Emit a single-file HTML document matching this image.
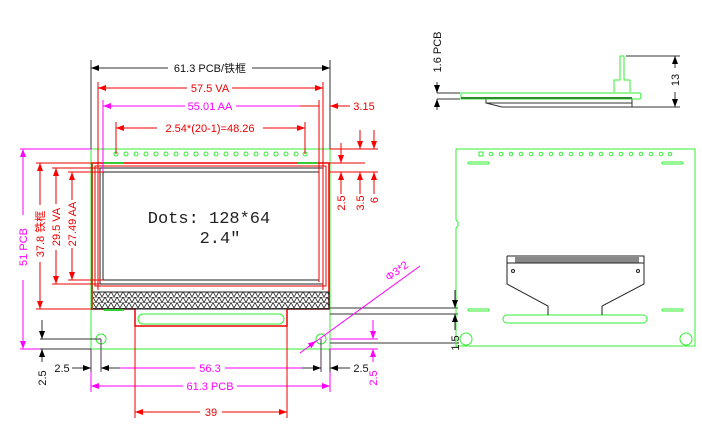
<!DOCTYPE html>
<html><head><meta charset="utf-8"><style>
html,body{margin:0;padding:0;background:#fff}
svg{display:block}
text{font-family:"Liberation Sans","Noto Sans CJK SC",sans-serif;font-size:11px}
</style></head><body>
<svg width="702" height="427" viewBox="0 0 702 427" xmlns="http://www.w3.org/2000/svg">
<defs>
<pattern id="hx" width="6" height="5.5" patternUnits="userSpaceOnUse">
<path d="M0,5.5 L3,0 L6,5.5 M0,0 L6,0" stroke="#222" stroke-width="0.8" fill="none"/>
</pattern>
<marker id="ak" markerWidth="8" markerHeight="6" refX="8" refY="3" orient="auto-start-reverse" markerUnits="userSpaceOnUse"><path d="M0,0 L8,3 L0,6z" fill="#000"/></marker>
<marker id="ar" markerWidth="8" markerHeight="6" refX="8" refY="3" orient="auto-start-reverse" markerUnits="userSpaceOnUse"><path d="M0,0 L8,3 L0,6z" fill="#f00"/></marker>
<marker id="am" markerWidth="8" markerHeight="6" refX="8" refY="3" orient="auto-start-reverse" markerUnits="userSpaceOnUse"><path d="M0,0 L8,3 L0,6z" fill="#f0f"/></marker>
</defs>
<g fill="none" stroke-width="1">
<path d="M91,149 H330 V349 H91 Z" stroke="#3e3"/>
<path d="M92,163 H329 V309 H287 V326 H135 V309 H92 Z" stroke="#e00" stroke-width="1.5"/>
<rect x="92" y="292" width="237" height="17" fill="url(#hx)" stroke="#222"/>
<rect x="95" y="166" width="231" height="120" stroke="#e00"/>
<rect x="100" y="168" width="223" height="116" stroke="#222"/>
<rect x="103" y="172" width="216" height="108" stroke="#222"/>
<line x1="92" y1="163" x2="92" y2="309" stroke="#a52" stroke-width="2"/>
<rect x="138" y="314" width="146" height="10" rx="5" stroke="#3e3"/>
<line x1="104" y1="163" x2="124" y2="163" stroke="#3c3" stroke-width="2"/>
<line x1="298" y1="163" x2="318" y2="163" stroke="#3c3" stroke-width="2"/>
<line x1="104" y1="310" x2="124" y2="310" stroke="#3c3" stroke-width="2"/>
<circle cx="101" cy="339" r="5" stroke="#3e3"/>
<circle cx="321" cy="339" r="5" stroke="#3e3"/>
<g stroke="#3e3">
<circle cx="116" cy="154" r="2"/><circle cx="126" cy="154" r="2"/><circle cx="136" cy="154" r="2"/><circle cx="146" cy="154" r="2"/><circle cx="156" cy="154" r="2"/><circle cx="166" cy="154" r="2"/><circle cx="176" cy="154" r="2"/><circle cx="186" cy="154" r="2"/><circle cx="196" cy="154" r="2"/><circle cx="206" cy="154" r="2"/><circle cx="216" cy="154" r="2"/><circle cx="226" cy="154" r="2"/><circle cx="236" cy="154" r="2"/><circle cx="246" cy="154" r="2"/><circle cx="256" cy="154" r="2"/><circle cx="266" cy="154" r="2"/><circle cx="276" cy="154" r="2"/><circle cx="286" cy="154" r="2"/><circle cx="296" cy="154" r="2"/><circle cx="305" cy="154" r="2"/>
</g>
<g stroke="#333"><line x1="91" y1="60" x2="91" y2="149"/><line x1="330" y1="60" x2="330" y2="149"/>
<line x1="91" y1="68" x2="168" y2="68" marker-start="url(#ak)"/><line x1="252" y1="68" x2="330" y2="68" marker-end="url(#ak)"/></g>
<g stroke="#e00"><line x1="98" y1="82" x2="98" y2="290"/><line x1="323" y1="82" x2="323" y2="290"/>
<line x1="98" y1="88" x2="187" y2="88" marker-start="url(#ar)"/><line x1="232" y1="88" x2="323" y2="88" marker-end="url(#ar)"/>
<line x1="319" y1="100" x2="319" y2="282"/>
<line x1="116" y1="122" x2="116" y2="154"/><line x1="305" y1="122" x2="305" y2="154"/>
<line x1="116" y1="128" x2="157" y2="128" marker-start="url(#ar)"/><line x1="263" y1="128" x2="305" y2="128" marker-end="url(#ar)"/>
<line x1="330" y1="106" x2="350" y2="106" marker-start="url(#ar)"/><line x1="300" y1="106" x2="319" y2="106" />
</g>
<g stroke="#f0f"><line x1="103" y1="100" x2="103" y2="172"/>
<line x1="103" y1="106" x2="185" y2="106" marker-start="url(#am)"/><line x1="236" y1="106" x2="300" y2="106"/></g>
<g stroke="#e00"><line x1="330" y1="149" x2="378" y2="149"/><line x1="330" y1="163" x2="365" y2="163"/><line x1="330" y1="172" x2="378" y2="172"/>
<line x1="341" y1="143" x2="341" y2="163" marker-end="url(#ar)"/><line x1="341" y1="194" x2="341" y2="172" marker-end="url(#ar)"/>
<line x1="360" y1="130" x2="360" y2="149" marker-end="url(#ar)"/><line x1="360" y1="194" x2="360" y2="172" marker-end="url(#ar)"/>
<line x1="374" y1="130" x2="374" y2="149" marker-end="url(#ar)"/><line x1="374" y1="194" x2="374" y2="172" marker-end="url(#ar)"/></g>
<g stroke="#f0f"><line x1="20" y1="149" x2="91" y2="149"/><line x1="20" y1="349" x2="91" y2="349"/>
<line x1="23" y1="149" x2="23" y2="215" marker-start="url(#am)"/><line x1="23" y1="280" x2="23" y2="349" marker-end="url(#am)"/></g>
<g stroke="#e00"><line x1="36" y1="163" x2="92" y2="163"/><line x1="36" y1="309" x2="92" y2="309"/>
<line x1="40" y1="163" x2="40" y2="205" marker-start="url(#ar)"/><line x1="40" y1="262" x2="40" y2="309" marker-end="url(#ar)"/>
<line x1="52" y1="168" x2="100" y2="168"/><line x1="52" y1="284" x2="100" y2="284"/>
<line x1="56" y1="168" x2="56" y2="204" marker-start="url(#ar)"/><line x1="56" y1="250" x2="56" y2="284" marker-end="url(#ar)"/>
<line x1="68" y1="172" x2="103" y2="172"/><line x1="68" y1="280" x2="103" y2="280"/>
<line x1="72" y1="172" x2="72" y2="200" marker-start="url(#ar)"/><line x1="72" y1="248" x2="72" y2="280" marker-end="url(#ar)"/></g>
<g stroke="#333"><line x1="40" y1="339" x2="101" y2="339"/><line x1="40" y1="349" x2="91" y2="349"/>
<line x1="42" y1="320" x2="42" y2="339" marker-end="url(#ak)"/><line x1="42" y1="362" x2="42" y2="349" marker-end="url(#ak)"/>
<line x1="91" y1="349" x2="91" y2="372" stroke="#535"/><line x1="101" y1="339" x2="101" y2="372" stroke="#535"/>
<line x1="72" y1="368" x2="91" y2="368" marker-end="url(#ak)"/><line x1="120" y1="368" x2="101" y2="368" marker-end="url(#ak)"/>
<line x1="321" y1="339" x2="321" y2="372" stroke="#535"/><line x1="330" y1="349" x2="330" y2="372"/>
<line x1="302" y1="368" x2="321" y2="368" marker-end="url(#ak)"/><line x1="350" y1="368" x2="330" y2="368" marker-end="url(#ak)"/>
<line x1="330" y1="308" x2="458" y2="308"/><line x1="330" y1="314" x2="458" y2="314"/><line x1="330" y1="343" x2="458" y2="343"/></g>
<g stroke="#f0f"><line x1="120" y1="368" x2="195" y2="368"/><line x1="225" y1="368" x2="302" y2="368"/>
<line x1="91" y1="372" x2="91" y2="392"/><line x1="330" y1="372" x2="330" y2="392"/>
<line x1="91" y1="386" x2="183" y2="386" marker-start="url(#am)"/><line x1="237" y1="386" x2="330" y2="386" marker-end="url(#am)"/>
<line x1="330" y1="339" x2="378" y2="339"/><line x1="330" y1="349" x2="378" y2="349"/>
<line x1="373" y1="320" x2="373" y2="339" marker-end="url(#am)"/><line x1="373" y1="362" x2="373" y2="349" marker-end="url(#am)"/>
<line x1="300" y1="353" x2="420" y2="266"/><line x1="308" y1="347" x2="316" y2="341" marker-end="url(#am)"/></g>
<g stroke="#e00"><line x1="135" y1="326" x2="135" y2="418"/><line x1="287" y1="326" x2="287" y2="418"/>
<line x1="135" y1="412" x2="200" y2="412" marker-start="url(#ar)"/><line x1="222" y1="412" x2="287" y2="412" marker-end="url(#ar)"/></g>
<g stroke="#333"><line x1="437" y1="93" x2="460" y2="93"/><line x1="437" y1="99" x2="460" y2="99"/>
<line x1="437" y1="82" x2="437" y2="93" marker-end="url(#ak)"/><line x1="437" y1="110" x2="437" y2="99" marker-end="url(#ak)"/>
<rect x="486" y="99" width="146" height="4"/><path d="M486,103 L502,107 H632 V103"/>
<line x1="626" y1="56" x2="680" y2="56"/><line x1="632" y1="107" x2="680" y2="107"/>
<line x1="675" y1="68" x2="675" y2="56" marker-end="url(#ak)"/><line x1="675" y1="92" x2="675" y2="107" marker-end="url(#ak)"/></g>
<path d="M461,93 H640 Q642,96 640,99 H461 Z" stroke="#3e3"/>
<line x1="461" y1="98" x2="632" y2="98" stroke="#383" stroke-width="2"/>
<path d="M614,92 V80 H620 V56 H624 V80 H630 V92" stroke="#3e3"/>
<path d="M456,149 H695 V346 H456 V228 L458,226 V222 L456,220 Z" stroke="#3e3"/>
<g stroke="#3e3"><rect x="479" y="152" width="4" height="4"/>
<circle cx="491" cy="154" r="1.8"/><circle cx="501" cy="154" r="1.8"/><circle cx="511" cy="154" r="1.8"/><circle cx="521" cy="154" r="1.8"/><circle cx="531" cy="154" r="1.8"/><circle cx="541" cy="154" r="1.8"/><circle cx="551" cy="154" r="1.8"/><circle cx="561" cy="154" r="1.8"/><circle cx="571" cy="154" r="1.8"/><circle cx="581" cy="154" r="1.8"/><circle cx="591" cy="154" r="1.8"/><circle cx="601" cy="154" r="1.8"/><circle cx="611" cy="154" r="1.8"/><circle cx="621" cy="154" r="1.8"/><circle cx="631" cy="154" r="1.8"/><circle cx="641" cy="154" r="1.8"/><circle cx="651" cy="154" r="1.8"/><circle cx="661" cy="154" r="1.8"/><circle cx="670" cy="154" r="1.8"/>
<rect x="468" y="162" width="21" height="2" rx="1"/><rect x="662" y="162" width="21" height="2" rx="1"/>
<rect x="468" y="309" width="21" height="2" rx="1"/><rect x="662" y="309" width="21" height="2" rx="1"/>
<rect x="503" y="315" width="144" height="8" rx="4"/>
<circle cx="466" cy="339" r="6"/><circle cx="686" cy="339" r="6"/></g>
<rect x="515" y="257" width="124" height="6" fill="#888" stroke="none"/>
<g stroke="#222"><path d="M507,256 H644 V284 L602,306 V315 M548,315 V306 L507,284 V256"/><line x1="507" y1="263" x2="644" y2="263"/>
<circle cx="513" cy="271" r="1.5"/><circle cx="638" cy="271" r="1.5"/>
<line x1="455" y1="290" x2="455" y2="308" marker-end="url(#ak)"/><line x1="455" y1="330" x2="455" y2="314" marker-end="url(#ak)"/></g>
</g>
<g text-anchor="middle">
<text x="210" y="72" fill="#111">61.3 PCB/铁框</text>
<text x="210" y="92" fill="#e00">57.5 VA</text>
<text x="210" y="110" fill="#f0f">55.01 AA</text>
<text x="364" y="110" fill="#e00">3.15</text>
<text x="210" y="132" fill="#e00">2.54*(20-1)=48.26</text>
<text x="209" y="223" fill="#222" style="font-family:'Liberation Mono','DejaVu Sans Mono',monospace;font-size:17px">Dots: 128*64</text>
<text x="220" y="243" fill="#222" style="font-family:'Liberation Mono','DejaVu Sans Mono',monospace;font-size:17px">2.4″</text>
<text x="62" y="372" fill="#111">2.5</text>
<text x="210" y="372" fill="#f0f">56.3</text>
<text x="361" y="372" fill="#111">2.5</text>
<text x="210" y="390" fill="#f0f">61.3 PCB</text>
<text x="211" y="416" fill="#e00">39</text>
</g>
<g text-anchor="middle">
<text transform="translate(27,247) rotate(-90)" fill="#f0f">51 PCB</text>
<text transform="translate(44,234) rotate(-90)" fill="#e00">37.8 铁框</text>
<text transform="translate(60,227) rotate(-90)" fill="#e00">29.5 VA</text>
<text transform="translate(76,224) rotate(-90)" fill="#e00">27.49 AA</text>
<text transform="translate(345,203) rotate(-90)" fill="#e00">2.5</text>
<text transform="translate(364,203) rotate(-90)" fill="#e00">3.5</text>
<text transform="translate(378,200) rotate(-90)" fill="#e00">6</text>
<text transform="translate(46,378) rotate(-90)" fill="#111">2.5</text>
<text transform="translate(377,378) rotate(-90)" fill="#f0f">2.5</text>
<text transform="translate(399,274) rotate(-36)" fill="#f0f">Φ3*2</text>
<text transform="translate(441,52) rotate(-90)" fill="#111">1.6 PCB</text>
<text transform="translate(679,80) rotate(-90)" fill="#111">13</text>
<text transform="translate(459,343) rotate(-90)" fill="#111">1.5</text>
</g>
</svg>
</body></html>
